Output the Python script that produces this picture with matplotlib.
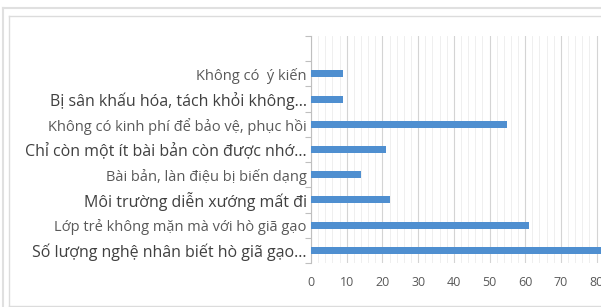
import matplotlib
matplotlib.use("Agg")
import matplotlib.pyplot as plt
from matplotlib.lines import Line2D
from matplotlib.ticker import MultipleLocator, FixedLocator

# categories from top to bottom (first slot is empty in the original chart)
labels = [
    "",
    "Không có  ý kiến",
    "Bị sân khấu hóa, tách khỏi không...",
    "Không có kinh phí để bảo vệ, phục hồi",
    "Chỉ còn một ít bài bản còn được nhớ...",
    "Bài bản, làn điệu bị biến dạng",
    "Môi trường diễn xướng mất đi",
    "Lớp trẻ không mặn mà với hò giã gạo",
    "Số lượng nghệ nhân biết hò giã gạo...",
]
values = [0, 9, 9, 55, 21, 14, 22, 61, 85]
big_label = [False, False, True, False, True, False, True, False, True]

plt.rcParams['font.family'] = ['Open Sans', 'DejaVu Sans']
fig = plt.figure(figsize=(6.01, 3.07), dpi=100)

W, H = 601, 307
x0, x_end = 311, 311 + 90 * 3.57
y_top, y_bot = 36, 263
ax = fig.add_axes([x0 / W, (H - y_bot) / H, (x_end - x0) / W, (y_bot - y_top) / H])

pos = list(range(len(labels)))
ax.barh(pos, values, height=0.28, color="#4f8fd0", zorder=3)
ax.set_ylim(len(labels) - 0.5, -0.5)
ax.set_xlim(0, 90)

ax.xaxis.set_major_locator(MultipleLocator(10))
ax.xaxis.set_minor_locator(MultipleLocator(2))
ax.grid(axis="x", which="major", color="#d4d4d4", linewidth=0.8, zorder=0)
ax.grid(axis="x", which="minor", color="#ececec", linewidth=0.6, zorder=0)
ax.tick_params(axis="x", which="both", length=0, labelsize=9,
               labelcolor="#595959", pad=9)

ax.set_yticks(pos)
ax.set_yticklabels(labels)
for lab, big in zip(ax.get_yticklabels(), big_label):
    lab.set_fontsize(11.5 if big else 10.5)
    lab.set_color("#404040" if big else "#595959")
ax.tick_params(axis="y", which="major", length=0, pad=3)
ax.yaxis.set_minor_locator(FixedLocator([p - 0.5 for p in pos] + [len(labels) - 0.5]))
ax.tick_params(axis="y", which="minor", length=4, color="#bfbfbf", width=0.8)

for s in ["top", "right", "bottom"]:
    ax.spines[s].set_visible(False)
ax.spines["left"].set_color("#bfbfbf")
ax.spines["left"].set_linewidth(0.8)

# chart frame (double border)
fig.add_artist(Line2D([2.5 / W, 2.5 / W], [0, 1 - 8 / H], transform=fig.transFigure, color="#e0e0e0", lw=1.5))
fig.add_artist(Line2D([2.5 / W, 1], [1 - 8 / H, 1 - 8 / H], transform=fig.transFigure, color="#e0e0e0", lw=1.5))
fig.add_artist(Line2D([9 / W, 9 / W], [1 - 305.5 / H, 1 - 15.5 / H], transform=fig.transFigure, color="#dcdcdc", lw=1))
fig.add_artist(Line2D([9 / W, 1], [1 - 15.5 / H, 1 - 15.5 / H], transform=fig.transFigure, color="#dcdcdc", lw=1))
fig.add_artist(Line2D([9 / W, 1], [1 - 305.5 / H, 1 - 305.5 / H], transform=fig.transFigure, color="#dcdcdc", lw=1))

fig.savefig("out.png", dpi=100)
